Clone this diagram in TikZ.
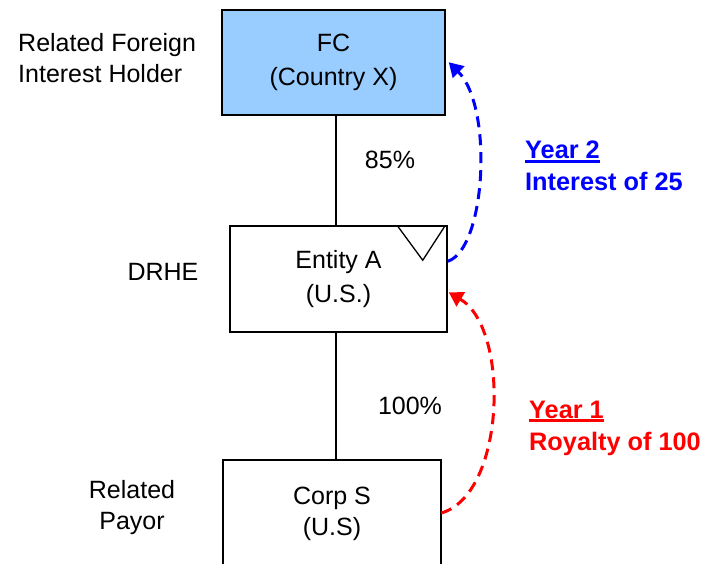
\documentclass[tikz,border=0pt]{standalone}
\usepackage{fontspec}
\setmainfont{Liberation Sans}
\usetikzlibrary{calc,arrows.meta}
\definecolor{fcblue}{HTML}{99CCFF}
\definecolor{arrblue}{HTML}{0000FF}
\definecolor{arrred}{HTML}{FF0000}
\newcommand{\myul}[1]{\setbox0\hbox{#1}\rlap{\rule[-4pt]{\wd0}{2.6pt}}\box0}
\begin{document}
\begin{tikzpicture}[x=1pt,y=-1pt,
  every node/.style={font=\fontsize{25}{31}\selectfont, inner sep=0pt},
  entbox/.style={draw=black, line width=1.5pt, minimum width=#1, align=center, font=\fontsize{25}{33.5}\selectfont},
  conn/.style={line width=1.3pt},
  flow/.style={line width=3pt, dash pattern=on 11pt off 7pt, -{Triangle[length=14pt,width=16pt]}},
  lbl/.style={align=left},
  note/.style={align=left, font=\bfseries\fontsize{25.3}{32}\selectfont}]
\useasboundingbox[fill=white] (0,0) rectangle (706,564);
\begin{scope}
\clip (0,0) rectangle (706,564);
% boxes
\node[entbox=223, minimum height=105, fill=fcblue] (fc) at (333.5,62.5) {FC\\(Country X)};
\node[entbox=217, minimum height=106] (entA) at (338.5,279) {Entity A\\(U.S.)};
\node[entbox=218, minimum height=160, anchor=north] (corpBox) at (332,459) {};
\node[minimum width=218, align=center] (corpS) at (332,514) {Corp S\\(U.S)};
% triangle marker
\draw[line width=1.3pt] ($(entA.north east)+(-50,1)$) -- ($(entA.north east)+(-25,35)$) -- ($(entA.north east)+(-3,1)$);
% ownership lines
\draw[conn] (fc.south) ++(2.5,0) coordinate (fcS) -- (fcS |- entA.north);
\draw[conn] (entA.south) ++(-2.5,0) coordinate (eaS) -- (eaS |- corpBox.north);
\node (p85) at (390,160) {85\%};
\node (p100) at (410,406) {100\%};
% side labels
\node[lbl, anchor=west] (rfih) at (18,58) {Related Foreign\\Interest Holder};
\node (drhe) at (163,272) {DRHE};
\node[align=center] (rp) at (132,508) {Related\\Payor};
% flows
\coordinate (bStart) at ($(entA.north east)+(0,36)$);
\coordinate (bEnd) at ($(fc.north east)+(3,53)$);
\draw[flow, arrblue] (bStart) .. controls ($(bStart)+(38,-12)$) and ($(bEnd)+(45,45)$) .. (bEnd);
\coordinate (rEnd) at ($(entA.north east)+(1,67)$);
\draw[flow, arrred] ($(corpS.east)+(0,-1)$) .. controls ($(corpS.east)+(64,-19)$) and ($(rEnd)+(62,37)$) .. (rEnd);
% notes
\node[note, text=arrblue, anchor=west] (n2) at (525,166) {\myul{Year 2}\\Interest of 25};
\node[note, text=arrred, anchor=west] (n1) at (529,428) {\myul{Year 1}\\Royalty of 100};
\end{scope}
\end{tikzpicture}
\end{document}
